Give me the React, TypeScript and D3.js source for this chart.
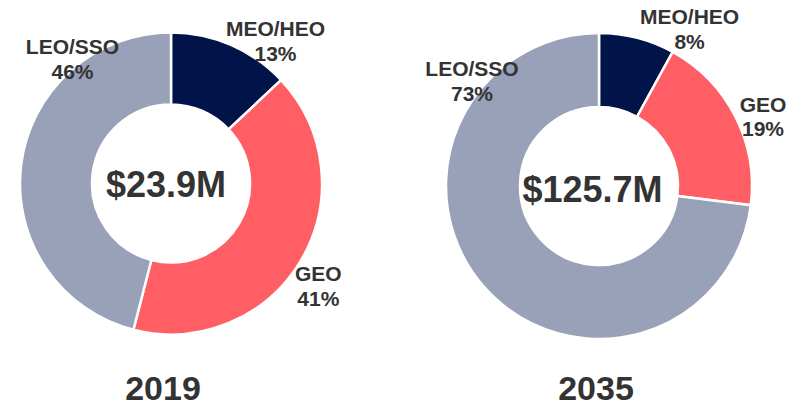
import React from "react";
import * as d3 from "d3";

// Orbit segments, clockwise from 12 o'clock
const categories = ["MEO/HEO", "GEO", "LEO/SSO"];
const years = ["2019", "2035"];
const shares2019 = [13, 41, 46];
const shares2035 = [8, 19, 73];
const totals = ["$23.9M", "$125.7M"];

const WIDTH = 802;
const HEIGHT = 405;
const FONT = "'Liberation Sans', Arial, Helvetica, sans-serif";
const TEXT = "#333333";

const color = d3
  .scaleOrdinal<string, string>()
  .domain(categories)
  .range(["#01144a", "#ff5f64", "#98a1b8"]);

// Donut geometry and label placement (offsets from each donut's centre)
const layouts = [
  {
    cx: 171,
    cy: 183.5,
    outer: 151,
    inner: 79,
    total: { dx: -5, dy: 13 },
    labels: [
      { dx: 104.5, dy: -147.5 },
      { dx: 147.3, dy: 97.5 },
      { dx: -98.5, dy: -129.5 },
    ],
    yearX: 163,
  },
  {
    cx: 599,
    cy: 186,
    outer: 153,
    inner: 79,
    total: { dx: -6.5, dy: 16 },
    labels: [
      { dx: 90.6, dy: -162 },
      { dx: 164, dy: -74.3 },
      { dx: -127, dy: -110 },
    ],
    yearX: 596,
  },
];

const series = [shares2019, shares2035];

function Donut({ index }: { index: number }) {
  const values = series[index];
  const lay = layouts[index];
  const data = categories.map((c, i) => ({ category: c, value: values[i] }));
  const pie = d3
    .pie<{ category: string; value: number }>()
    .value((d) => d.value)
    .sort(null)
    .startAngle(0)
    .endAngle(2 * Math.PI);
  const arc = d3
    .arc<d3.PieArcDatum<{ category: string; value: number }>>()
    .innerRadius(lay.inner)
    .outerRadius(lay.outer);
  const arcs = pie(data);
  return (
    <g>
      <g transform={`translate(${lay.cx},${lay.cy})`}>
        {arcs.map((a) => (
          <path
            key={a.data.category}
            d={arc(a) || ""}
            fill={color(a.data.category)}
            stroke="#ffffff"
            strokeWidth={2.5}
            strokeLinejoin="miter"
          />
        ))}
        <text
          x={lay.total.dx}
          y={lay.total.dy}
          textAnchor="middle"
          fontFamily={FONT}
          fontWeight="bold"
          fontSize={36}
          fill={TEXT}
        >
          {totals[index]}
        </text>
        {arcs.map((a, i) => (
          <text
            key={"l" + a.data.category}
            textAnchor="middle"
            fontFamily={FONT}
            fontWeight="bold"
            fontSize={21}
            fill={TEXT}
          >
            <tspan x={lay.labels[i].dx} y={lay.labels[i].dy}>
              {a.data.category}
            </tspan>
            <tspan x={lay.labels[i].dx} y={lay.labels[i].dy + 24.5}>
              {`${a.data.value}%`}
            </tspan>
          </text>
        ))}
      </g>
      <text
        x={lay.yearX}
        y={399.5}
        textAnchor="middle"
        fontFamily={FONT}
        fontWeight="bold"
        fontSize={34}
        fill={TEXT}
      >
        {years[index]}
      </text>
    </g>
  );
}

export default function App() {
  return (
    <svg
      width={WIDTH}
      height={HEIGHT}
      style={{ position: "absolute", left: 0, top: 0, display: "block" }}
    >
      <rect width={WIDTH} height={HEIGHT} fill="#ffffff" />
      {years.map((y, i) => (
        <Donut key={y} index={i} />
      ))}
    </svg>
  );
}
